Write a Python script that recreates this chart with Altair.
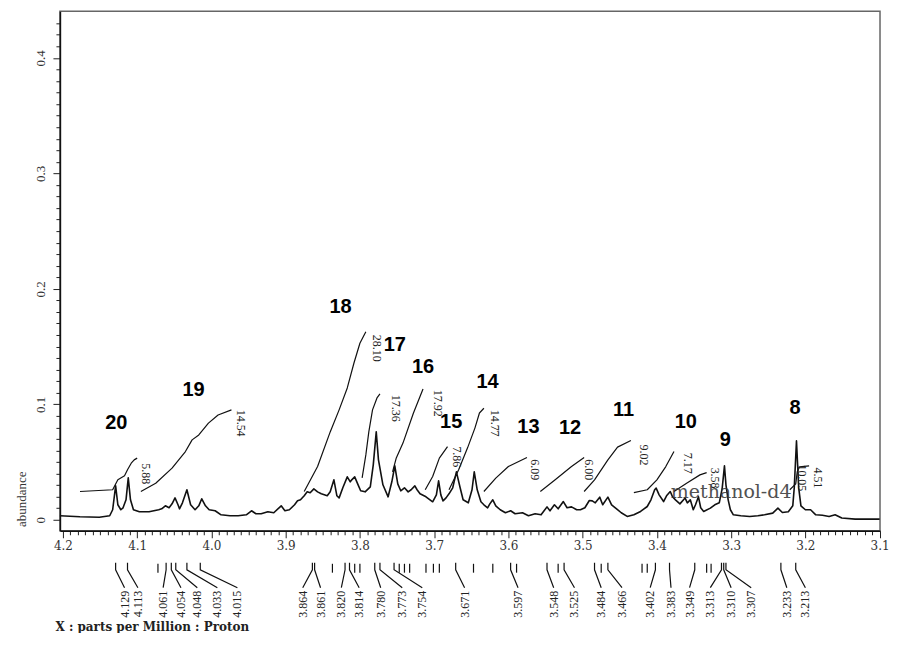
import altair as alt
import pandas as pd

# ---------------- spectrum (ppm, abundance) ----------------
SPEC_PPM = [4.204, 4.177, 4.151, 4.137, 4.133, 4.129, 4.126, 4.122, 4.119, 4.115, 4.112, 4.109, 4.105,
            4.097, 4.084, 4.071, 4.067, 4.062, 4.057, 4.053, 4.049, 4.045, 4.043, 4.039, 4.033, 4.028,
            4.022, 4.017, 4.013, 4.008, 4.003, 3.995, 3.987, 3.975, 3.964, 3.953, 3.946, 3.940, 3.933,
            3.924, 3.916, 3.906, 3.901, 3.895, 3.888, 3.884, 3.880, 3.875, 3.871, 3.867, 3.862, 3.857,
            3.852, 3.844, 3.840, 3.835, 3.831, 3.828, 3.823, 3.817, 3.813, 3.811, 3.807, 3.803, 3.799,
            3.793, 3.786, 3.782, 3.778, 3.775, 3.769, 3.762, 3.757, 3.753, 3.749, 3.745, 3.740, 3.735,
            3.731, 3.726, 3.723, 3.719, 3.711, 3.702, 3.697, 3.694, 3.691, 3.688, 3.684, 3.680, 3.675,
            3.670, 3.665, 3.661, 3.654, 3.649, 3.646, 3.642, 3.637, 3.633, 3.628, 3.625, 3.621, 3.617,
            3.611, 3.604, 3.597, 3.591, 3.581, 3.573, 3.564, 3.556, 3.548, 3.544, 3.538, 3.533, 3.526,
            3.521, 3.515, 3.508, 3.503, 3.497, 3.491, 3.487, 3.483, 3.477, 3.473, 3.466, 3.461, 3.456,
            3.448, 3.440, 3.431, 3.422, 3.413, 3.408, 3.403, 3.401, 3.397, 3.391, 3.387, 3.382, 3.379,
            3.375, 3.369, 3.362, 3.359, 3.355, 3.351, 3.348, 3.344, 3.341, 3.337, 3.328, 3.322, 3.316,
            3.313, 3.312, 3.309, 3.307, 3.304, 3.301, 3.297, 3.287, 3.275, 3.264, 3.255, 3.244, 3.237,
            3.231, 3.223, 3.217, 3.215, 3.212, 3.209, 3.206, 3.200, 3.193, 3.186, 3.177, 3.168, 3.160,
            3.151, 3.133, 3.111, 3.100]
SPEC_AB = [0.0035, 0.0026, 0.0022, 0.0035, 0.0087, 0.0294, 0.0130, 0.0087, 0.0104, 0.0173, 0.0363, 0.0173, 0.0087,
           0.0069, 0.0069, 0.0087, 0.0095, 0.0121, 0.0104, 0.0138, 0.0190, 0.0130, 0.0095, 0.0147, 0.0260, 0.0130,
           0.0087, 0.0121, 0.0182, 0.0121, 0.0087, 0.0078, 0.0043, 0.0035, 0.0035, 0.0043, 0.0078, 0.0052, 0.0052,
           0.0069, 0.0061, 0.0121, 0.0078, 0.0087, 0.0130, 0.0164, 0.0173, 0.0208, 0.0242, 0.0234, 0.0268, 0.0242,
           0.0225, 0.0208, 0.0242, 0.0346, 0.0208, 0.0190, 0.0277, 0.0372, 0.0329, 0.0346, 0.0372, 0.0311, 0.0251,
           0.0242, 0.0285, 0.0476, 0.0761, 0.0519, 0.0303, 0.0199, 0.0329, 0.0467, 0.0311, 0.0251, 0.0277, 0.0242,
           0.0260, 0.0294, 0.0260, 0.0225, 0.0199, 0.0156, 0.0216, 0.0337, 0.0216, 0.0164, 0.0190, 0.0225, 0.0277,
           0.0415, 0.0277, 0.0173, 0.0147, 0.0260, 0.0415, 0.0260, 0.0156, 0.0130, 0.0104, 0.0138, 0.0173, 0.0121,
           0.0087, 0.0061, 0.0078, 0.0052, 0.0061, 0.0035, 0.0052, 0.0043, 0.0112, 0.0078, 0.0130, 0.0095, 0.0158,
           0.0104, 0.0112, 0.0087, 0.0087, 0.0104, 0.0167, 0.0164, 0.0147, 0.0196, 0.0130, 0.0196, 0.0130, 0.0104,
           0.0061, 0.0029, 0.0043, 0.0072, 0.0115, 0.0173, 0.0260, 0.0274, 0.0216, 0.0158, 0.0208, 0.0245, 0.0199,
           0.0173, 0.0138, 0.0188, 0.0147, 0.0173, 0.0087, 0.0130, 0.0199, 0.0104, 0.0072, 0.0101, 0.0130, 0.0147,
           0.0242, 0.0277, 0.0467, 0.0303, 0.0173, 0.0087, 0.0043, 0.0035, 0.0029, 0.0035, 0.0043, 0.0058, 0.0101,
           0.0063, 0.0069, 0.0121, 0.0277, 0.0683, 0.0277, 0.0121, 0.0087, 0.0087, 0.0043, 0.0039, 0.0029, 0.0043,
           0.0015, 0.0006, 0.0006, 0.0006]

# ---------------- integral curves (ppm, abundance) ----------------
INT_20 = [(4.177, 0.0245), (4.133, 0.0260), (4.126, 0.0346), (4.117, 0.0381), (4.113, 0.0433),
          (4.108, 0.0490), (4.104, 0.0519), (4.100, 0.0534)]
INT_19 = [(4.095, 0.0245), (4.075, 0.0317), (4.053, 0.0447), (4.035, 0.0591), (4.026, 0.0692),
          (4.017, 0.0735), (4.004, 0.0837), (3.991, 0.0908), (3.973, 0.0952)]
INT_18 = [(3.875, 0.0245), (3.857, 0.0461), (3.840, 0.0761), (3.828, 0.0952), (3.817, 0.1142),
          (3.808, 0.1358), (3.800, 0.1529), (3.792, 0.1629)]
INT_17 = [(3.797, 0.0363), (3.792, 0.0562), (3.788, 0.0761), (3.783, 0.0952), (3.777, 0.1055), (3.773, 0.1090)]
INT_16 = [(3.756, 0.0415), (3.751, 0.0536), (3.742, 0.0664), (3.728, 0.0923), (3.715, 0.1133)]
INT_15 = [(3.712, 0.0260), (3.702, 0.0375), (3.693, 0.0534), (3.682, 0.0634)]
INT_14 = [(3.680, 0.0260), (3.667, 0.0433), (3.655, 0.0623), (3.645, 0.0796), (3.639, 0.0925), (3.633, 0.0966)]
INT_13 = [(3.633, 0.0245), (3.617, 0.0361), (3.600, 0.0461), (3.575, 0.0539)]
INT_12 = [(3.557, 0.0245), (3.537, 0.0346), (3.515, 0.0461), (3.498, 0.0539)]
INT_11 = [(3.498, 0.0245), (3.484, 0.0346), (3.466, 0.0519), (3.453, 0.0629), (3.435, 0.0686)]
INT_10 = [(3.431, 0.0236), (3.413, 0.0260), (3.400, 0.0346), (3.388, 0.0461), (3.377, 0.0591)]
INT_9 = [(3.377, 0.0245), (3.360, 0.0317), (3.342, 0.0389), (3.333, 0.0409)]
INT_8 = [(3.221, 0.0260), (3.213, 0.0311), (3.211, 0.0415), (3.208, 0.0458), (3.195, 0.0467)]

# integral values
INTLAB_TEXT = ["5.88", "14.54", "28.10", "17.36", "17.92", "7.86", "14.77", "6.09", "6.00", "9.02",
               "7.17", "3.58", "10.05", "4.51"]
INTLAB_PPM = [4.088, 3.960, 3.777, 3.752, 3.695, 3.669, 3.618, 3.564, 3.491, 3.417, 3.358, 3.322, 3.204, 3.183]
INTLAB_AB = [0.0398, 0.0837, 0.1485, 0.0966, 0.1010, 0.0545, 0.0837, 0.0433, 0.0433, 0.0562, 0.0490,
             0.0361, 0.0363, 0.0363]

# compound numbers
GROUP_TEXT = ["20", "19", "18", "17", "16", "15", "14", "13", "12", "11", "10", "9", "8"]
GROUP_PPM = [4.128, 4.024, 3.826, 3.753, 3.715, 3.677, 3.628, 3.573, 3.517, 3.445, 3.361, 3.308, 3.214]
GROUP_AB = [0.0837, 0.1125, 0.1845, 0.1514, 0.1326, 0.0850, 0.1196, 0.0807, 0.0793, 0.0952, 0.0850,
            0.0692, 0.0966]

# solvent annotation
SOLVENT_TEXT = ["methanol-d4"]
SOLVENT_PPM = [3.300]
SOLVENT_AB = [0.0242]

# labelled peak positions and where their labels sit
PEAK_TEXT = ["4.129", "4.113", "4.061", "4.054", "4.048", "4.033", "4.015", "3.864", "3.861", "3.820",
             "3.814", "3.780", "3.773", "3.754", "3.671", "3.597", "3.548", "3.525", "3.484", "3.466",
             "3.402", "3.383", "3.349", "3.313", "3.310", "3.307", "3.233", "3.213"]
PEAK_PPM = [4.129, 4.113, 4.061, 4.054, 4.048, 4.033, 4.015, 3.864, 3.861, 3.820,
            3.814, 3.780, 3.773, 3.754, 3.671, 3.597, 3.548, 3.525, 3.484, 3.466,
            3.402, 3.383, 3.349, 3.313, 3.310, 3.307, 3.233, 3.213]
PEAK_LABEL_PPM = [4.117, 4.099, 4.065, 4.041, 4.019, 3.992, 3.965, 3.877, 3.853, 3.825,
                  3.801, 3.772, 3.743, 3.716, 3.659, 3.587, 3.539, 3.511, 3.475, 3.447,
                  3.409, 3.381, 3.356, 3.328, 3.300, 3.273, 3.225, 3.200]
# unlabelled picked peaks
MINOR_PEAK_PPM = [4.072, 3.837, 3.807, 3.800, 3.747, 3.740, 3.733, 3.711, 3.701, 3.693,
                  3.647, 3.621, 3.589, 3.533, 3.475, 3.420, 3.413, 3.333, 3.327]

# layout levels below the axis (in abundance units)
CONN_TOP, CONN_BEND, CONN_END, LABEL_AT = -0.0372, -0.0433, -0.0588, -0.0614
MINOR_TOP, MINOR_BOT = -0.0381, -0.0458

# ---------------- data frames ----------------
spec_df = pd.DataFrame({"ppm": SPEC_PPM, "ab": SPEC_AB, "k": list(range(len(SPEC_PPM)))})

int_rows = []
for name, pts in [("20", INT_20), ("19", INT_19), ("18", INT_18), ("17", INT_17), ("16", INT_16),
                  ("15", INT_15), ("14", INT_14), ("13", INT_13), ("12", INT_12), ("11", INT_11),
                  ("10", INT_10), ("9", INT_9), ("8", INT_8)]:
    for k, (p, a) in enumerate(pts):
        int_rows.append({"g": name, "k": k, "ppm": p, "ab": a})
int_df = pd.DataFrame(int_rows)

intlab_df = pd.DataFrame({"t": INTLAB_TEXT, "ppm": INTLAB_PPM, "ab": INTLAB_AB})
group_df = pd.DataFrame({"t": GROUP_TEXT, "ppm": GROUP_PPM, "ab": GROUP_AB})
solvent_df = pd.DataFrame({"t": SOLVENT_TEXT, "ppm": SOLVENT_PPM, "ab": SOLVENT_AB})

conn_rows = []
for i, (p, lp) in enumerate(zip(PEAK_PPM, PEAK_LABEL_PPM)):
    conn_rows.append({"g": i, "k": 0, "ppm": p, "ab": CONN_TOP})
    conn_rows.append({"g": i, "k": 1, "ppm": p, "ab": CONN_BEND})
    conn_rows.append({"g": i, "k": 2, "ppm": lp, "ab": CONN_END})
conn_df = pd.DataFrame(conn_rows)
peaklab_df = pd.DataFrame({"t": PEAK_TEXT, "ppm": PEAK_LABEL_PPM, "ab": [LABEL_AT] * len(PEAK_TEXT)})
minor_df = pd.DataFrame({"ppm": MINOR_PEAK_PPM, "ab": [MINOR_TOP] * len(MINOR_PEAK_PPM),
                         "ab2": [MINOR_BOT] * len(MINOR_PEAK_PPM)})

# ---------------- scales / axes ----------------
X_TICKS = [round(3.10 + 0.01 * i, 2) for i in range(111)]
Y_TICKS = [round(-0.01 + 0.01 * i, 2) for i in range(45)]
MAJOR = "abs(datum.value*10 - round(datum.value*10)) < 0.001"

xscale = alt.Scale(domain=[3.0995, 4.204], reverse=True, nice=False, zero=False)
yscale = alt.Scale(domain=[-0.0095, 0.4403], nice=False, zero=False)

xaxis = alt.Axis(
    values=X_TICKS, grid=False, labelOverlap=False, labelFlush=False,
    labelExpr=f"{MAJOR} ? format(datum.value, '.1f') : ''",
    tickSize={"condition": {"test": MAJOR, "value": 7}, "value": 4},
    tickColor="#222", tickWidth=1, domainColor="#111", domainWidth=1.5,
    labelFont="DejaVu Serif", labelFontSize=12, labelColor="#333", labelPadding=3,
    title="X : parts per Million : Proton", titleFont="DejaVu Serif", titleFontSize=12,
    titleFontWeight="bold", titleColor="#222", titleAnchor="start", titleAlign="left",
    titleX=-5, titleY=100, titleBaseline="alphabetic",
)
yaxis = alt.Axis(
    values=Y_TICKS, grid=False, labelOverlap=False, labelFlush=False,
    labelExpr=f"{MAJOR} && datum.value > -0.005 ? (abs(datum.value) < 0.001 ? '0' : format(datum.value, '.1f')) : ''",
    tickSize={"condition": {"test": MAJOR, "value": 7}, "value": 4},
    tickColor="#222", tickWidth=1, domainColor="#111", domainWidth=1.5,
    labelFont="Liberation Serif", labelFontSize=13, labelColor="#333", labelPadding=5,
    labelAngle=270, labelAlign="center", labelBaseline="bottom",
    title="abundance", titleFont="Liberation Serif", titleFontSize=13, titleFontWeight="normal",
    titleColor="#333", titleAngle=270, titleX=-38, titleY=488, titleAlign="center",
    titleBaseline="middle",
)

X = alt.X("ppm:Q", scale=xscale, axis=xaxis)
Y = alt.Y("ab:Q", scale=yscale, axis=yaxis)

spectrum = alt.Chart(spec_df).mark_line(color="#111", strokeWidth=1.6, strokeJoin="round").encode(
    x=X, y=Y, order=alt.Order("k:Q"))

integrals = alt.Chart(int_df).mark_line(color="#111", strokeWidth=1.2, strokeJoin="round").encode(
    x=X, y=Y, detail="g:N", order=alt.Order("k:Q"))

int_labels = alt.Chart(intlab_df).mark_text(
    font="Liberation Serif", fontSize=12, angle=90, align="center", baseline="middle", color="#222"
).encode(x=X, y=Y, text="t:N")

group_labels = alt.Chart(group_df).mark_text(
    font="Liberation Sans", fontSize=20, fontWeight="bold", align="center", baseline="middle", color="#000"
).encode(x=X, y=Y, text="t:N")

solvent = alt.Chart(solvent_df).mark_text(
    font="DejaVu Serif", fontSize=19, align="center", baseline="middle", color="#333", opacity=0.85
).encode(x=X, y=Y, text="t:N")

connectors = alt.Chart(conn_df).mark_line(color="#111", strokeWidth=1.2).encode(
    x=X, y=Y, detail="g:N", order=alt.Order("k:Q"))

minor_ticks = alt.Chart(minor_df).mark_rule(color="#111", strokeWidth=1.2).encode(
    x=X, y=Y, y2=alt.Y2("ab2:Q"))

peak_labels = alt.Chart(peaklab_df).mark_text(
    font="Liberation Serif", fontSize=12, angle=270, align="right", baseline="middle", color="#222"
).encode(x=X, y=Y, text="t:N")

chart = alt.layer(
    spectrum, integrals, int_labels, group_labels, solvent, connectors, minor_ticks, peak_labels
).properties(
    width=821, height=520,
    padding={"left": 52, "top": 3, "right": 9, "bottom": 102},
    autosize=alt.AutoSizeParams(type="none"),
    background="white",
).configure_view(stroke="#666", strokeWidth=1.5)

chart.save("out.html", embed_options={"renderer": "svg", "actions": False})
